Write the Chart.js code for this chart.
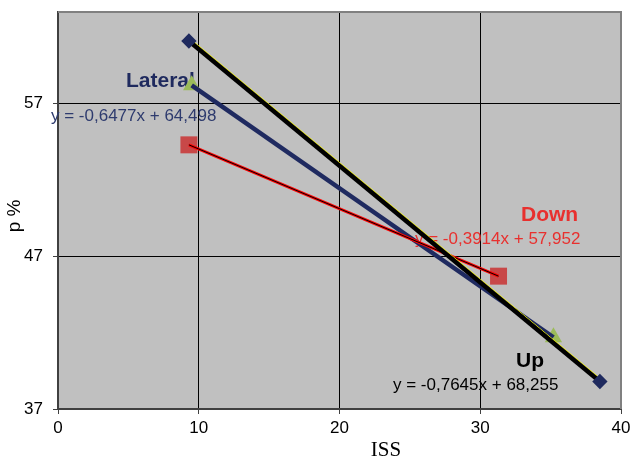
<!DOCTYPE html>
<html><head><meta charset="utf-8">
<script src="https://cdn.jsdelivr.net/npm/chart.js@4.4.1/dist/chart.umd.min.js"></script>
<style>html,body{margin:0;padding:0;background:#fff;}</style>
</head><body>
<canvas id="c" width="633" height="457"></canvas>
<script>
// ---- data ----
const xTicks = [0, 10, 20, 30, 40];
const yTicks = [37, 47, 57];
const upX = [9.3, 38.5];
const upY = [61.1, 38.8];
const latX = [9.5, 35.2];
const latY = [58.2, 41.7];
const downX = [9.3, 31.3];
const downY = [54.3, 45.7];
const seriesNames = ['Up', 'Lateral', 'Down'];
const equations = ['y = -0,7645x + 68,255', 'y = -0,6477x + 64,498', 'y = -0,3914x + 57,952'];
const xTitle = 'ISS';
const yTitle = 'p %';

function pts(xs, ys) { return xs.map((x, i) => ({ x: x, y: ys[i] })); }

const SANS = '"Liberation Sans", Arial, sans-serif';
const labels = [
  { text: seriesNames[1], color: '#1f2a5e', font: 'bold 21px ' + SANS, x: 126, y: 87 },
  { text: equations[1], color: '#2e3b6e', font: '17px ' + SANS, x: 51, y: 121 },
  { text: seriesNames[2], color: '#e8302e', font: 'bold 21px ' + SANS, x: 521, y: 221 },
  { text: equations[2], color: '#e8302e', font: '17px ' + SANS, x: 415, y: 244 },
  { text: seriesNames[0], color: '#000000', font: 'bold 21px ' + SANS, x: 516, y: 367 },
  { text: equations[0], color: '#000000', font: '17px ' + SANS, x: 393, y: 390 }
];

const deco = {
  id: 'deco',
  beforeDraw(chart) {
    const { ctx, chartArea: a } = chart;
    ctx.save();
    ctx.fillStyle = '#c0c0c0';
    ctx.fillRect(a.left, a.top, a.right - a.left, a.bottom - a.top);
    ctx.restore();
  },
  beforeDatasetsDraw(chart) {
    const ctx = chart.ctx;
    ctx.save();
    ctx.textBaseline = 'alphabetic';
    ctx.textAlign = 'left';
    labels.forEach(l => { ctx.font = l.font; ctx.fillStyle = l.color; ctx.fillText(l.text, l.x, l.y); });
    ctx.restore();
  },
  beforeDatasetDraw(chart, args) {
    if (chart.data.datasets[args.index].shift) {
      chart.ctx.save();
      chart.ctx.translate(1.6, -1.9);
    }
  },
  afterDatasetDraw(chart, args) {
    if (chart.data.datasets[args.index].shift) chart.ctx.restore();
  },
  afterDraw(chart) {
    const { ctx, chartArea: a } = chart;
    ctx.save();
    ctx.strokeStyle = '#808080';
    ctx.lineWidth = 2;
    ctx.beginPath();
    ctx.moveTo(a.left, a.top);
    ctx.lineTo(a.right, a.top);
    ctx.lineTo(a.right, a.bottom);
    ctx.stroke();
    // axis titles
    ctx.fillStyle = '#000';
    ctx.font = '21px "Liberation Serif", "Times New Roman", serif';
    ctx.textAlign = 'center';
    ctx.textBaseline = 'alphabetic';
    ctx.fillText(xTitle, 386, 456);
    ctx.translate(15, 216);
    ctx.rotate(-Math.PI / 2);
    ctx.font = '19px ' + SANS;
    ctx.textBaseline = 'middle';
    ctx.fillText(yTitle, 0, 0);
    ctx.restore();
  }
};

new Chart(document.getElementById('c'), {
  type: 'scatter',
  data: {
    datasets: [
      { label: 'Up trend', data: pts(upX, upY), showLine: true, borderColor: '#ffff00', borderWidth: 1,
        pointRadius: 0, order: 1, shift: true },
      { label: seriesNames[0], data: pts(upX, upY), showLine: true, borderColor: '#000000', borderWidth: 4.5,
        pointStyle: 'rectRot', pointRadius: 4.5, pointBackgroundColor: '#1f2a5e', pointBorderColor: '#1f2a5e',
        order: 0 },
      { label: 'Down trend', data: pts(downX, downY), showLine: true, borderColor: '#000000', borderWidth: 1,
        pointRadius: 0, order: 2 },
      { label: seriesNames[2], data: pts(downX, downY), showLine: true, borderColor: '#ff0000', borderWidth: 3,
        pointRadius: 0, order: 3 },
      { label: 'Down markers', data: pts(downX, downY), showLine: false,
        pointStyle: 'rect', pointRadius: 12, pointBackgroundColor: '#c84848', pointBorderColor: '#c84848', pointBorderWidth: 0,
        order: 6 },
      { label: seriesNames[1], data: pts(latX, latY), showLine: true, borderColor: '#1f2a60', borderWidth: 4.5,
        pointRadius: 0, order: 4 },
      { label: 'Lateral markers', data: pts(latX, latY), showLine: false,
        pointStyle: 'triangle', pointRadius: 10, pointBackgroundColor: '#9bbb59', pointBorderColor: '#9bbb59', pointBorderWidth: 0,
        order: 7 }
    ]
  },
  options: {
    responsive: false,
    animation: false,
    devicePixelRatio: 1,
    layout: { padding: { left: 0, top: 10, right: 11, bottom: 0 } },
    plugins: { legend: { display: false }, tooltip: { enabled: false } },
    scales: {
      x: {
        type: 'linear', min: xTicks[0], max: xTicks[xTicks.length - 1],
        afterBuildTicks: s => { s.ticks = xTicks.map(v => ({ value: v })); },
        afterFit: s => { s.height = 48; s.paddingLeft = 0; s.paddingRight = 0; },
        ticks: { color: '#000', font: { family: SANS, size: 17 }, padding: 4, maxRotation: 0 },
        grid: { color: c => (c.tick && (c.tick.value === xTicks[0] || c.tick.value === xTicks[xTicks.length - 1])) ? 'rgba(0,0,0,0)' : '#000',
                lineWidth: 1, tickLength: 5, tickColor: '#404040', drawTicks: true },
        border: { display: true, color: '#404040', width: 2 },
        title: { display: false }
      },
      y: {
        type: 'linear', min: 37, max: 63,
        afterBuildTicks: s => { s.ticks = yTicks.map(v => ({ value: v })); },
        afterFit: s => { s.width = 58; s.paddingTop = 0; s.paddingBottom = 0; },
        ticks: { color: '#000', font: { family: SANS, size: 17 }, padding: 10 },
        grid: { color: c => (c.tick && c.tick.value === yTicks[0]) ? 'rgba(0,0,0,0)' : '#000',
                lineWidth: 1, tickLength: 5, tickColor: '#404040', drawTicks: true },
        border: { display: true, color: '#404040', width: 2 },
        title: { display: false }
      }
    }
  },
  plugins: [deco]
});
</script>
</body></html>
